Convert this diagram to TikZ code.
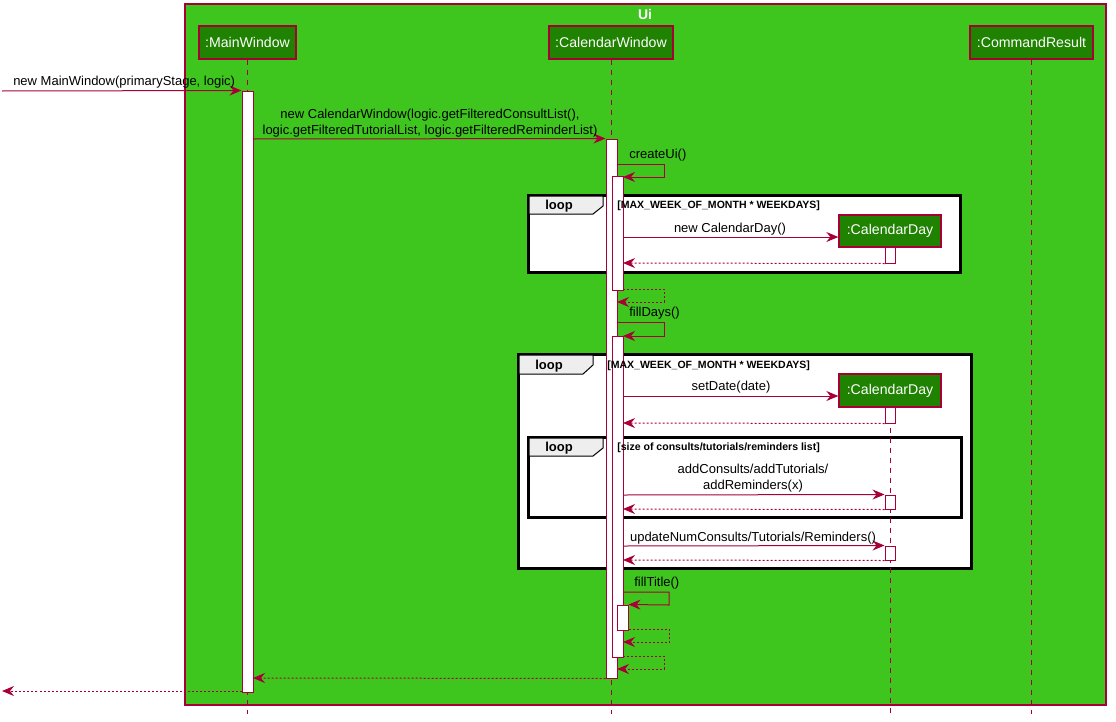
\documentclass[tikz,border=0pt]{standalone}
\usepackage{fontspec}
\setmainfont{Liberation Sans}
\usetikzlibrary{arrows.meta,fit}
\definecolor{crim}{HTML}{A80036}
\definecolor{uigreen}{HTML}{3EC61E}
\definecolor{partgreen}{HTML}{1F8200}
\definecolor{tabgray}{HTML}{EEEEEE}
\tikzset{
  txt/.style={font=\fontsize{9.75}{11.5}\selectfont, inner sep=0pt, align=center},
  guard/.style={font=\fontsize{7.9}{10}\selectfont\bfseries, inner sep=0pt, anchor=west},
  looplbl/.style={font=\fontsize{9.75}{11}\selectfont\bfseries, inner sep=0pt},
  part/.style={draw=crim, line width=1pt, fill=partgreen, text=white, font=\fontsize{10.6}{12}\selectfont, inner sep=0pt, minimum height=24.75pt},
  act/.style={draw=crim, line width=0.75pt, fill=white, inner sep=0pt},
  lifeline/.style={draw=crim, line width=0.75pt, dash pattern=on 3.75pt off 3.75pt},
  msg/.style={draw=crim, line width=0.75pt, -{Stealth[length=9pt,width=7.5pt,inset=3pt]}},
  ret/.style={msg, dash pattern=on 1.5pt off 1.5pt},
  frameb/.style={draw=black, line width=1.6pt, fill=white},
  tabshape/.style={draw=black, line width=0.75pt, fill=tabgray},
}
\begin{document}
\begin{tikzpicture}[x=0.75pt,y=-0.75pt]
\useasboundingbox (0,0) rectangle (1116,721);
\fill[white] (0,0) rectangle (1116,721);
% Ui box
\node[draw=crim, line width=0.9pt, fill=uigreen, inner sep=0pt, fit={(185,4) (1106,705)}] (ui) {};
\node[font=\fontsize{10.5}{12}\selectfont\bfseries, text=white, inner sep=0pt] (uit) at (645,14) {Ui};

% loop frames
\node[frameb, inner sep=0pt, fit={(529,196) (960,272)}] (f1) {};
\draw[tabshape] (529,196) -- (603,196) -- (603,206) -- (593,214) -- (529,214) -- cycle;
\draw[black, line width=1.6pt] (f1.north west) rectangle (f1.south east);
\node[looplbl] (f1l) at (559,206) {loop};

\node[frameb, inner sep=0pt, fit={(519,355) (971,568)}] (f2) {};
\draw[tabshape] (519,355) -- (593,355) -- (593,365) -- (583,374) -- (519,374) -- cycle;
\draw[black, line width=1.6pt] (f2.north west) rectangle (f2.south east);
\node[looplbl] (f2l) at (549,366) {loop};

\node[frameb, inner sep=0pt, fit={(529,438) (961,517)}] (f3) {};
\draw[tabshape] (529,438) -- (603,438) -- (603,448) -- (593,456) -- (529,456) -- cycle;
\draw[black, line width=1.6pt] (f3.north west) rectangle (f3.south east);
\node[looplbl] (f3l) at (559,448) {loop};

% participants
\node[part, minimum width=72.75pt] (mw) at (247.5,42.5) {:MainWindow};
\node[part, minimum width=93pt] (cw) at (611,42.5) {:CalendarWindow};
\node[part, minimum width=92.25pt] (cr) at (1031.5,42.5) {:CommandResult};

% lifelines
\coordinate (mwend) at (247.5,714);
\coordinate (cwend) at (611,714);
\coordinate (crend) at (1031.5,714);
\coordinate (cdend) at (890,714);
\draw[lifeline] (mw.south) -- (mwend);
\draw[lifeline] (cw.south) -- (cwend);
\draw[lifeline] (cr.south) -- (crend);

% calendar day boxes
\node[part, minimum width=76.5pt, minimum height=24pt] (cd1) at (890,231) {:CalendarDay};
\node[part, minimum width=76.5pt] (cd2) at (890,390.5) {:CalendarDay};
\draw[lifeline] (cd2.south) -- (cdend);

% activations
\node[act, fit={(242,91) (253,692)}] (a0) {};
\node[act, fit={(606,139) (617,678)}] (a1) {};
\node[act, fit={(612,176) (623,290)}] (a2) {};
\node[act, fit={(612,336) (623,657)}] (a3) {};
\node[act, fit={(617,605) (628,630)}] (a4) {};
\node[act, fit={(885,247) (895,263)}] (d1) {};
\node[act, fit={(885,407) (895,423)}] (d2) {};
\node[act, fit={(885,495) (895,509)}] (d3) {};
\node[act, fit={(885,546) (895,560)}] (d4) {};

% guards (drawn over activation bars)
\node[guard] (f1g) at (617,206) {[MAX\_WEEK\_OF\_MONTH * WEEKDAYS]};
\node[guard] (f2g) at (607,366) {[MAX\_WEEK\_OF\_MONTH * WEEKDAYS]};
\node[guard] (f3g) at (617,448) {[size of consults/tutorials/reminders list]};

% message 1
\coordinate (ext1) at (2,91);
\draw[msg] (ext1) -- (a0.north west);
\node[txt, anchor=west] (l1) at (13,82) {new MainWindow(primaryStage, logic)};

% message 2
\coordinate (m2s) at (253,139);
\draw[msg] (m2s) -- (a1.north west);
\node[txt] (l2) at (430,123) {new CalendarWindow(logic.getFilteredConsultList(),\\logic.getFilteredTutorialList, logic.getFilteredReminderList)};

% createUi
\coordinate (m3s) at (617,164);
\coordinate (m3a) at (664,164);
\coordinate (m3b) at (664,177);
\coordinate (m3e) at (623,177);
\draw[msg] (m3s) -- (m3a) -- (m3b) -- (m3e);
\node[txt, anchor=west] (l3) at (629,155) {createUi()};

% new CalendarDay
\coordinate (m4s) at (623,237);
\draw[msg] (m4s) -- (cd1.west |- m4s);
\node[txt] (l4) at (730,229) {new CalendarDay()};
\coordinate (r4e) at (623,263);
\draw[ret] (d1.south west) -- (r4e);

% return createUi
\coordinate (r3s) at (623,289);
\coordinate (r3a) at (664,289);
\coordinate (r3b) at (664,302);
\coordinate (r3e) at (617,302);
\draw[ret] (r3s) -- (r3a) -- (r3b) -- (r3e);

% fillDays
\coordinate (m5s) at (617,322);
\coordinate (m5a) at (664,322);
\coordinate (m5b) at (664,336);
\coordinate (m5e) at (623,336);
\draw[msg] (m5s) -- (m5a) -- (m5b) -- (m5e);
\node[txt, anchor=west] (l5) at (629,313) {fillDays()};

% setDate
\coordinate (m6s) at (623,396);
\draw[msg] (m6s) -- (cd2.west |- m6s);
\node[txt] (l6) at (731,387) {setDate(date)};
\coordinate (r6e) at (623,423);
\draw[ret] (d2.south west) -- (r6e);

% addConsults
\coordinate (m7s) at (623,495);
\draw[msg] (m7s) -- (d3.north west);
\node[txt] (l7) at (753,478) {addConsults/addTutorials/\\addReminders(x)};
\coordinate (r7e) at (623,509);
\draw[ret] (d3.south west) -- (r7e);

% updateNum
\coordinate (m8s) at (623,546);
\draw[msg] (m8s) -- (d4.north west);
\node[txt] (l8) at (753,538) {updateNumConsults/Tutorials/Reminders()};
\coordinate (r8e) at (623,560);
\draw[ret] (d4.south west) -- (r8e);

% fillTitle
\coordinate (m9s) at (623,592);
\coordinate (m9a) at (669,592);
\coordinate (m9b) at (669,605);
\draw[msg] (m9s) -- (m9a) -- (m9b) -- (a4.north east);
\node[txt, anchor=west] (l9) at (634,583) {fillTitle()};

% return fillTitle
\coordinate (r9a) at (669,629);
\coordinate (r9b) at (669,642);
\coordinate (r9e) at (623,642);
\draw[ret] (a4.east |- r9a) -- (r9a) -- (r9b) -- (r9e);

% return fillDays
\coordinate (r5s) at (623,656);
\coordinate (r5a) at (664,656);
\coordinate (r5b) at (664,669);
\coordinate (r5e) at (617,669);
\draw[ret] (r5s) -- (r5a) -- (r5b) -- (r5e);

% return constructor
\coordinate (r2e) at (253,678);
\draw[ret] (a1.south west) -- (r2e);

% return main
\coordinate (r1e) at (2,691);
\draw[ret] (a0.west |- 0,691) -- (r1e);
\end{tikzpicture}
\end{document}
